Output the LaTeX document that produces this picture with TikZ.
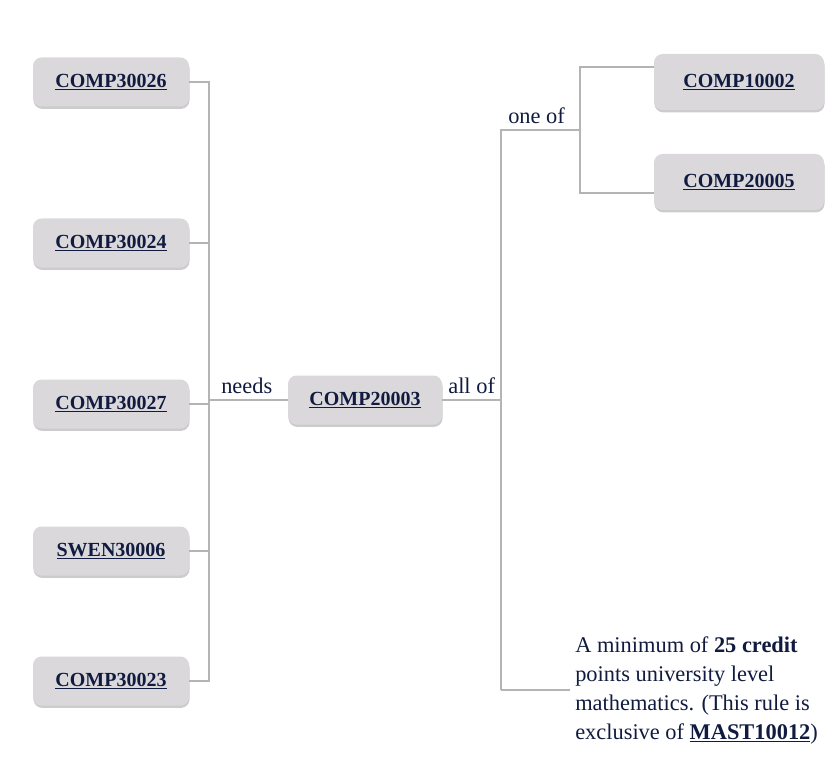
\documentclass[tikz,border=0pt]{standalone}
\usepackage{fontspec}
\setmainfont{Liberation Serif}
\usepackage{xcolor}
\usetikzlibrary{shadows}

\definecolor{boxgray}{HTML}{DAD8DB}
\definecolor{linegray}{HTML}{B4B4B4}
\definecolor{navy}{HTML}{101B3F}

\newcommand{\subj}[1]{\underline{\textbf{#1}}}

\tikzset{
  subject/.style={fill=boxgray, rounded corners=6.5pt, text=navy,
    minimum width=117pt, minimum height=36.75pt, inner sep=0pt,
    font=\fontsize{15}{18}\selectfont,
    drop shadow={shadow xshift=0.4pt, shadow yshift=-1.8pt, fill=black, opacity=0.2}},
  bigsubject/.style={subject, minimum width=127.5pt, minimum height=42pt},
  link/.style={draw=linegray, line width=2.2pt},
  rule/.style={text=navy, font=\fontsize{16.8}{20}\selectfont},
}

\begin{document}
\begin{tikzpicture}[x=0.75pt, y=-0.75pt]
\useasboundingbox (0,0) rectangle (838,759);

% subjects that need it
\node[subject] (c26) at (111,82) {\subj{COMP30026}};
\node[subject] (c24) at (111,243) {\subj{COMP30024}};
\node[subject] (c27) at (111,404) {\subj{COMP30027}};
\node[subject] (s06) at (111,551) {\subj{SWEN30006}};
\node[subject] (c23) at (111,681) {\subj{COMP30023}};

% the subject itself
\node[subject, minimum width=115.5pt] (c03) at (365,400) {\subj{COMP20003}};

% its prerequisites
\node[bigsubject] (c02) at (739,82) {\subj{COMP10002}};
\node[bigsubject] (c05) at (739,182) {\subj{COMP20005}};
\node[rule, anchor=west, align=left, inner xsep=3.75pt, inner ysep=0pt,
  font=\fontsize{16.8}{21.75}\selectfont] (math) at (570,690)
  {A minimum of \textbf{25 credit}\\
   points university level\\
   mathematics. (This rule is\\
   exclusive of \subj{MAST10012})};

\coordinate (ltrunk) at (209,400);
\coordinate (rtrunk) at (501,400);
\coordinate (oneof) at (501,130);
\coordinate (ofork) at (580,130);
\coordinate (rbot) at (501,690);

% left tree
\draw[link] (c26.east) -| (ltrunk);
\draw[link] (c23.east) -| (ltrunk);
\draw[link] (c24.east) -- (c24.east -| ltrunk);
\draw[link] (c27.east) -- (c27.east -| ltrunk);
\draw[link] (s06.east) -- (s06.east -| ltrunk);
\draw[link] (ltrunk) -- node[rule, above, pos=0.48] {needs} (c03.west);

% right tree
\draw[link] (c03.east) -- node[rule, above] {all of} (rtrunk);
\draw[link] (rbot) -- (oneof) -- node[rule, above, pos=0.45] {one of} (ofork);
\draw[link] (ofork) |- ([yshift=11.25pt]c02.west);
\draw[link] (ofork) |- ([yshift=-8.25pt]c05.west);
\draw[link] (rbot) -- (math.west);
\end{tikzpicture}
\end{document}
